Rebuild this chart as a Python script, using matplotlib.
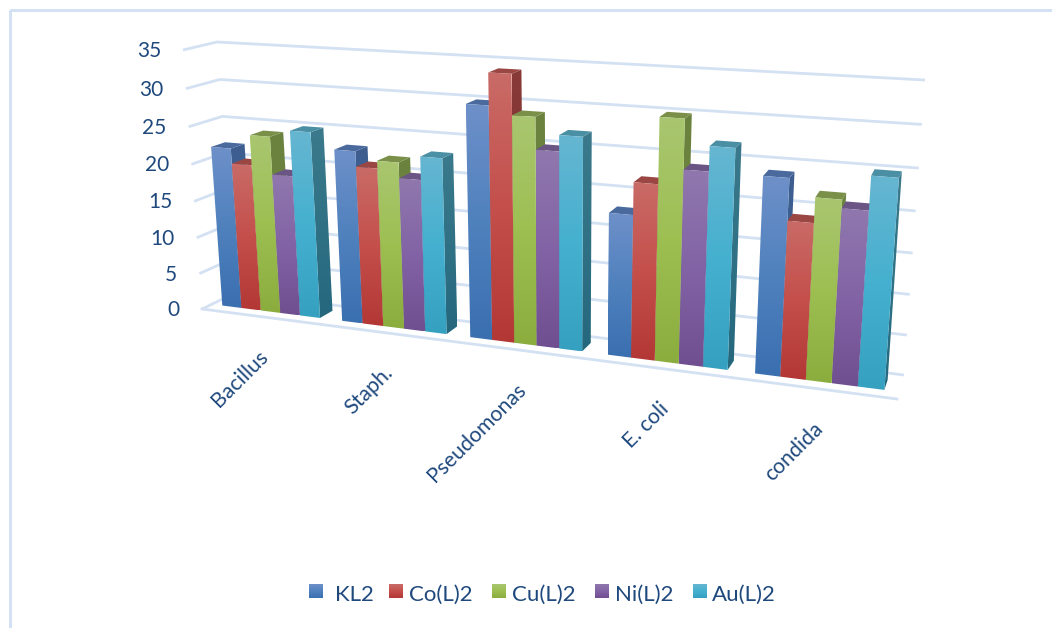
import numpy as np
import matplotlib.pyplot as plt
from matplotlib.colors import LinearSegmentedColormap
from matplotlib.patches import Polygon, Rectangle

plt.rcParams['font.family'] = ['Lato', 'DejaVu Sans']

categories = ['Bacillus', 'Staph.', 'Pseudomonas', 'E. coli', 'condida']
series = ['KL2', 'Co(L)2', 'Cu(L)2', 'Ni(L)2', 'Au(L)2']
kl2 = [22, 23, 30, 18, 24]
co = [20, 21, 34, 22, 19]
cu = [24, 22, 29, 30, 22]
ni = [19, 20, 25, 24, 21]
au = [25, 23, 27, 27, 25]
values = [kl2, co, cu, ni, au]
yticks = [0, 5, 10, 15, 20, 25, 30, 35]

# light / mid / dark front colours, then side dark range and the top colour
front_colors = [('#6e90c9', '#4f81bd', '#3a6fb0'),
                ('#c96b67', '#c44f4b', '#b33835'),
                ('#a9c670', '#9dbf52', '#8bad3e'),
                ('#9078ae', '#8263a5', '#704f90'),
                ('#66b6d1', '#45b0cf', '#35a0bf')]
side_colors = [('#3f5f90', '#2f5a90'),
               ('#863a38', '#8a2e2c'),
               ('#6c8240', '#68843a'),
               ('#5d4a7c', '#55397a'),
               ('#3b7a8c', '#25687e')]
top_colors = ['#4a6a9e', '#9a4643', '#7a9049', '#6a5585', '#4a8fa3']

grid_color = '#d3e1f3'
text_color = '#1f497d'


def homography(corners):
    # maps the unit square (0,0) (1,0) (1,1) (0,1) onto four pixel corners
    rows, rhs = [], []
    for (u, v), (px, py) in zip([(0, 0), (1, 0), (1, 1), (0, 1)], corners):
        rows.append([u, v, 1, 0, 0, 0, -u * px, -v * px])
        rows.append([0, 0, 0, u, v, 1, -u * py, -v * py])
        rhs += [px, py]
    return np.append(np.linalg.solve(np.array(rows, float), np.array(rhs, float)), 1).reshape(3, 3)


# walls of the 3D box: bottom-left, bottom-right, top-right, top-left
front_wall = homography([(202, 309), (897, 399), (919, 92), (183, 50)])
back_wall = homography([(235, 293), (904, 375), (925, 80), (217, 42)])


def project(x, v, z):
    # x in category units (0-5), v in axis units, z 0 at the front and 1 at the back
    p = np.array([x / 5, v / 35, 1.0])
    f = front_wall @ p
    b = back_wall @ p
    return (1 - z) * f[:2] / f[2] + z * b[:2] / b[2]


fig = plt.figure(figsize=(10.52, 6.28), dpi=100)
ax = fig.add_axes([0, 0, 1, 1])

# outer frame of the chart area
ax.add_patch(Rectangle((9.5, 9.5), 1100, 700, fill=False, ec=grid_color, lw=2.2, zorder=1))

# walls and floor gridlines
for v in yticks:
    p0, p1, p2 = project(0, v, 0), project(0, v, 1), project(5, v, 1)
    ax.plot([p0[0], p1[0], p2[0]], [p0[1], p1[1], p2[1]], color=grid_color, lw=2, zorder=1,
            solid_capstyle='butt', solid_joinstyle='miter')
    ax.text(p0[0] - 22, p0[1] + 1, str(v), ha='right', va='center', fontsize=15, color=text_color)
p0, p1 = project(0, 0, 0), project(5, 0, 0)
ax.plot([p0[0], p1[0]], [p0[1], p1[1]], color=grid_color, lw=2, zorder=1)


def gradient_fill(points, stops, zorder):
    # vertical colour ramp clipped to a polygon
    patch = Polygon(points, closed=True, fc='none', ec='none', zorder=zorder)
    ax.add_patch(patch)
    cmap = LinearSegmentedColormap.from_list('ramp', stops)
    xs, ys = zip(*points)
    im = ax.imshow(np.linspace(0, 1, 128).reshape(-1, 1), cmap=cmap, aspect='auto', zorder=zorder,
                   extent=(min(xs), max(xs), max(ys), min(ys)), interpolation='bilinear')
    im.set_clip_path(patch)


z_front, z_back = 0.3, 0.72
margin = 0.09
bar_w = (1 - 2 * margin) / len(series)
order = 3
for g in range(len(categories)):
    for s in range(len(series)):
        x0 = g + margin + s * bar_w
        x1 = x0 + bar_w
        v = values[s][g]
        # side, top and front faces, painted back to front
        side = [project(x1, v, z_front), project(x1, v, z_back), project(x1, 0, z_back), project(x1, 0, z_front)]
        top = [project(x0, v, z_front), project(x1, v, z_front), project(x1, v, z_back), project(x0, v, z_back)]
        front = [project(x0, v, z_front), project(x1, v, z_front), project(x1, 0, z_front), project(x0, 0, z_front)]
        gradient_fill(side, side_colors[s], order)
        ax.add_patch(Polygon(top, closed=True, fc=top_colors[s], ec='none', zorder=order + 0.1))
        gradient_fill(front, front_colors[s], order + 0.2)
        order += 1

    # category label hangs from the floor below the group
    anchor = project(g + 0.5, 0, 0)
    ax.text(anchor[0] - 3, anchor[1] + 30, categories[g], rotation=45, rotation_mode='anchor',
            ha='right', va='top', fontsize=15.3, color=text_color)

# legend row
swatch_x = [309, 389, 492, 595, 693]
label_x = [335, 409, 512, 615, 712]
for s, name in enumerate(series):
    sx = swatch_x[s]
    pts = [(sx, 584), (sx + 14, 584), (sx + 14, 598), (sx, 598)]
    gradient_fill(pts, front_colors[s], 500)
    ax.text(label_x[s], 595, name, ha='left', va='center', fontsize=16, color=text_color)

ax.set_xlim(0, 1052)
ax.set_ylim(628, 0)
ax.axis('off')

fig.savefig('out.png', dpi=100)
